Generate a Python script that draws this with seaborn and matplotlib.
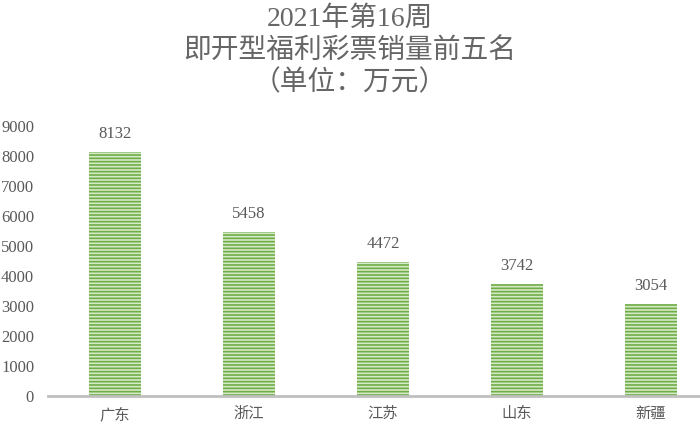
import matplotlib
matplotlib.use("Agg")
import matplotlib.pyplot as plt
import seaborn as sns

# data
provinces = ['广东', '浙江', '江苏', '山东', '新疆']
sales = [8132, 5458, 4472, 3742, 3054]
title_lines = ['2021年第16周', '即开型福利彩票销量前五名', '（单位：万元）']

sns.set_style('white')
plt.rcParams['font.family'] = ['Liberation Serif', 'Noto Sans CJK SC', 'DejaVu Sans']
plt.rcParams['hatch.linewidth'] = 1.2

grey = '#595959'
fig = plt.figure(figsize=(7, 4.34), dpi=100)
ax = fig.add_axes([48 / 700, (434 - 396) / 434, (700 - 48) / 700, (396 - 126) / 434])

sns.barplot(x=provinces, y=sales, ax=ax, color='#d6ebc8', width=0.39,
            edgecolor='#70ad47', linewidth=0, saturation=1)
for bar in ax.patches:
    bar.set_hatch('-----')

for i, v in enumerate(sales):
    ax.text(i, v + 330, str(v), ha='center', va='bottom', fontsize=12, color=grey)

ax.set_xlim(-0.5, 4.366)
ax.set_ylim(0, 9000)
ax.set_yticks(range(0, 9001, 1000))
ax.tick_params(axis='y', labelsize=12, labelcolor=grey, length=0, pad=10)
ax.tick_params(axis='x', labelsize=11, labelcolor=grey, length=0, pad=8)
for side in ['top', 'right', 'left']:
    ax.spines[side].set_visible(False)
ax.spines['bottom'].set_color('#bfbfbf')
ax.spines['bottom'].set_linewidth(2)
ax.set_xlabel('')
ax.set_ylabel('')

for k, line in enumerate(title_lines):
    fig.text(0.5, 1 - (19 + 32 * k) / 434, line, ha='center', va='center',
             fontsize=20, color='#666666')

fig.savefig('out.png', dpi=100)
